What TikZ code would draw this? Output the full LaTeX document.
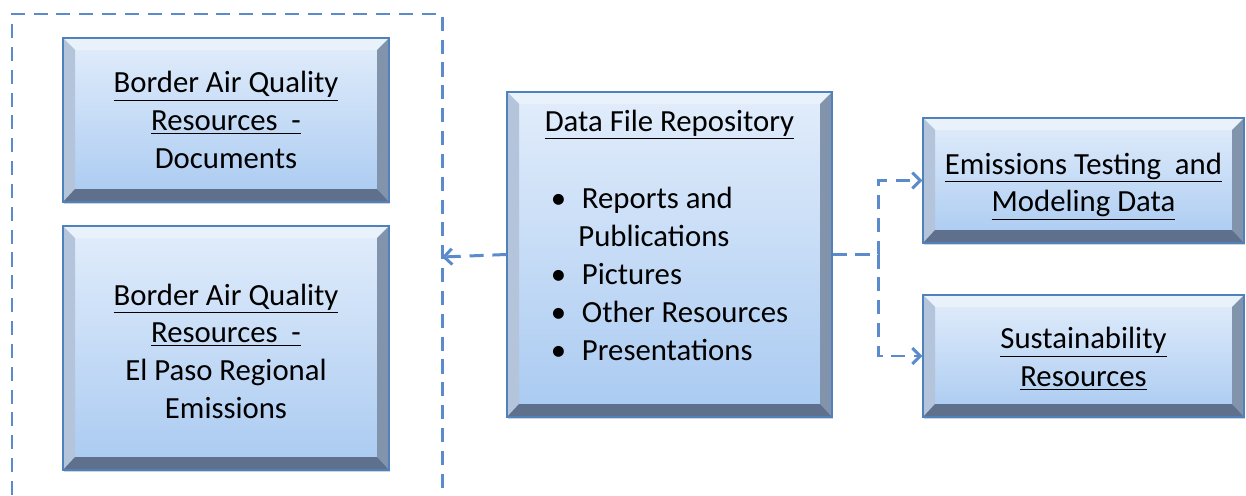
\documentclass[tikz,border=0pt]{standalone}
\usepackage{fontspec}
\setmainfont{Carlito}
\usetikzlibrary{arrows.meta,shadows,calc}

\definecolor{boxline}{HTML}{4F81BD}
\definecolor{boxtop}{HTML}{E2EDFB}
\definecolor{boxbot}{HTML}{A9CAF1}
\definecolor{bevtop}{HTML}{E9F1FB}
\definecolor{bevleft}{HTML}{B4C4DA}
\definecolor{bevright}{HTML}{8293AC}
\definecolor{bevbot}{HTML}{5F708C}
\definecolor{flowblue}{HTML}{5B8BCB}

\newcommand{\lowered}[2]{\raisebox{-#1}[\height][\depth]{#2}}

\tikzset{
  bevelbox/.style={draw=boxline, line width=0.7pt, top color=boxtop, bottom color=boxbot,
    align=center, inner sep=0pt,
    drop shadow={shadow xshift=0.6pt, shadow yshift=-1.2pt, opacity=0.35},
    font=\fontsize{17.5}{21.5}\selectfont,
    path picture={
      \coordinate (nw) at (path picture bounding box.north west);
      \coordinate (ne) at (path picture bounding box.north east);
      \coordinate (sw) at (path picture bounding box.south west);
      \coordinate (se) at (path picture bounding box.south east);
      \fill[bevtop] (nw) -- (ne) -- ($(ne)+(-0.24,-0.24)$) -- ($(nw)+(0.24,-0.24)$) -- cycle;
      \fill[bevleft] (nw) -- ($(nw)+(0.24,-0.24)$) -- ($(sw)+(0.24,0.26)$) -- (sw) -- cycle;
      \fill[bevright] (ne) -- ($(ne)+(-0.24,-0.24)$) -- ($(se)+(-0.24,0.26)$) -- (se) -- cycle;
      \fill[bevbot] (sw) -- ($(sw)+(0.24,0.26)$) -- ($(se)+(-0.24,0.26)$) -- (se) -- cycle;
    }},
  flow/.style={draw=flowblue, line width=1.7pt, dash pattern=on 8pt off 5pt,
    -{Straight Barb[length=4.5pt,width=9pt]}},
  group/.style={draw=flowblue, line width=1.7pt, dash pattern=on 8pt off 5pt}
}

\begin{document}
\begin{tikzpicture}
    \useasboundingbox (0,0) rectangle (24.92,-9.9);

    % Dashed group round the two border boxes
    \draw[group] (0.24,-9.9) -- (0.24,-0.28) -- (8.84,-0.28) -- (8.84,-9.9);
    \coordinate (grpE) at (8.84,-5.14);

    % Border air quality boxes
    \node[bevelbox, minimum width=6.52cm, minimum height=3.28cm] (docs) at (4.52,-2.40)
        {\underline{Border Air Quality}\\\underline{Resources\ \ -}\\Documents};
    \node[bevelbox, minimum width=6.52cm, minimum height=4.88cm] (elpaso) at (4.52,-6.96)
        {\lowered{3.5pt}{\begin{tabular}{@{}c@{}}\underline{Border Air Quality}\\\underline{Resources\ \ -}\\El Paso Regional\\Emissions\end{tabular}}};

    % Data file repository
    \node[bevelbox, minimum width=6.5cm, minimum height=6.5cm] (repo) at (13.39,-5.09)
        {\underline{Data File Repository}\\[0.82cm]
         \begin{tabular}{@{}l@{\hspace{9pt}}l@{}}
         \textbullet & Reports and\\
                     & \hspace{-2pt}Publications\\
         \textbullet & Pictures\\
         \textbullet & Other Resources\\
         \textbullet & Presentations
         \end{tabular}\\[0.52cm]};

    % Right hand boxes
    \node[bevelbox, minimum width=6.42cm, minimum height=2.5cm] (emis) at (21.67,-3.61)
        {\lowered{2.8pt}{\begin{tabular}{@{}c@{}}\underline{Emissions Testing\ \ and}\\\underline{Modeling Data}\end{tabular}}};
    \node[bevelbox, minimum width=6.42cm, minimum height=2.44cm] (sust) at (21.67,-7.12)
        {\lowered{2.3pt}{\begin{tabular}{@{}c@{}}\underline{Sustainability}\\\underline{Resources}\end{tabular}}};

    % Connectors
    \coordinate (split) at ($(repo.east)+(0.92,0)$);
    \draw[flow] (repo.west) -- (grpE);
    \draw[flow] (repo.east) -- (split) |- (emis.west);
    \draw[flow] (split) |- (sust.west);

\end{tikzpicture}
\end{document}
